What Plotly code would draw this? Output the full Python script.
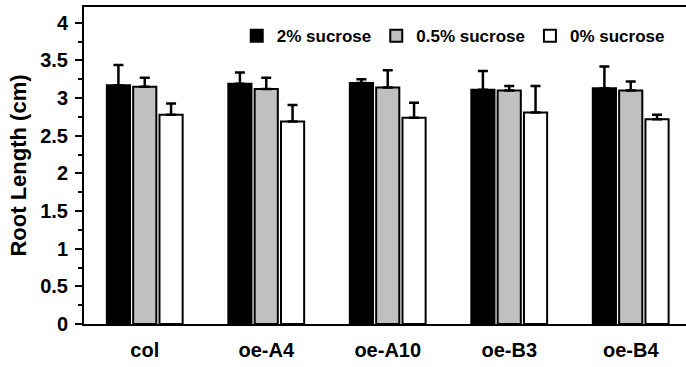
import plotly.graph_objects as go

categories = ["col", "oe-A4", "oe-A10", "oe-B3", "oe-B4"]
series_names = ["2% sucrose", "0.5% sucrose", "0% sucrose"]
sucrose_2 = [3.17, 3.19, 3.20, 3.11, 3.13]
sucrose_2_err = [0.27, 0.15, 0.05, 0.25, 0.29]
sucrose_05 = [3.15, 3.12, 3.14, 3.10, 3.10]
sucrose_05_err = [0.12, 0.15, 0.23, 0.06, 0.12]
sucrose_0 = [2.78, 2.69, 2.74, 2.81, 2.72]
sucrose_0_err = [0.15, 0.22, 0.20, 0.35, 0.06]
y_ticks = [0, 0.5, 1, 1.5, 2, 2.5, 3, 3.5, 4]

colors = ["#000000", "#C0C0C0", "#FFFFFF"]
vals = [sucrose_2, sucrose_05, sucrose_0]
errs = [sucrose_2_err, sucrose_05_err, sucrose_0_err]

font = "Liberation Sans, Arial, sans-serif"
fig = go.Figure()
for name, v, e, c in zip(series_names, vals, errs, colors):
    fig.add_trace(go.Bar(
        x=categories, y=v, name=name,
        marker=dict(color=c, line=dict(color="#000000", width=2)),
        error_y=dict(type="data", array=e, arrayminus=[0] * len(e), symmetric=False,
                     color="#000000", thickness=2.5, width=5),
    ))

fig.update_layout(
    width=686, height=367,
    margin=dict(l=84, r=0, t=7, b=43, autoexpand=False),
    paper_bgcolor="white", plot_bgcolor="white",
    barmode="group", bargap=0.35, bargroupgap=0.12,
    font=dict(family=font, color="#000000"),
    showlegend=True,
    legend=dict(orientation="h", x=0.973, xanchor="right", y=0.908, yanchor="middle",
                font=dict(family=font, size=17, color="#000000", weight="bold"),
                bgcolor="rgba(0,0,0,0)", itemwidth=30, traceorder="normal"),
)
fig.update_xaxes(
    range=[-0.5, 4.455], showline=True, linecolor="#000000", linewidth=2, mirror=True,
    ticks="", showgrid=False, zeroline=False, ticklabelstandoff=7,
    tickfont=dict(family=font, size=20, color="#000000", weight="bold"),
)
fig.update_yaxes(
    range=[0, 4.21], tickvals=y_ticks, ticktext=[f"{t:g}" for t in y_ticks],
    showline=True, linecolor="#000000", linewidth=2, mirror=False,
    ticks="outside", ticklen=7, tickwidth=2, tickcolor="#000000",
    minor=dict(ticks="outside", dtick=0.25, ticklen=4, tickwidth=2, tickcolor="#000000", showgrid=False),
    showgrid=False, zeroline=False, ticklabelstandoff=3,
    tickfont=dict(family=font, size=20, color="#000000", weight="bold"),
    title=dict(text="Root Length (cm)", font=dict(family=font, size=22, color="#000000", weight="bold"), standoff=7),
)
fig.write_html("out.html", config={"displayModeBar": False},
               post_script="document.body.style.margin='0';document.body.style.overflow='hidden';")
